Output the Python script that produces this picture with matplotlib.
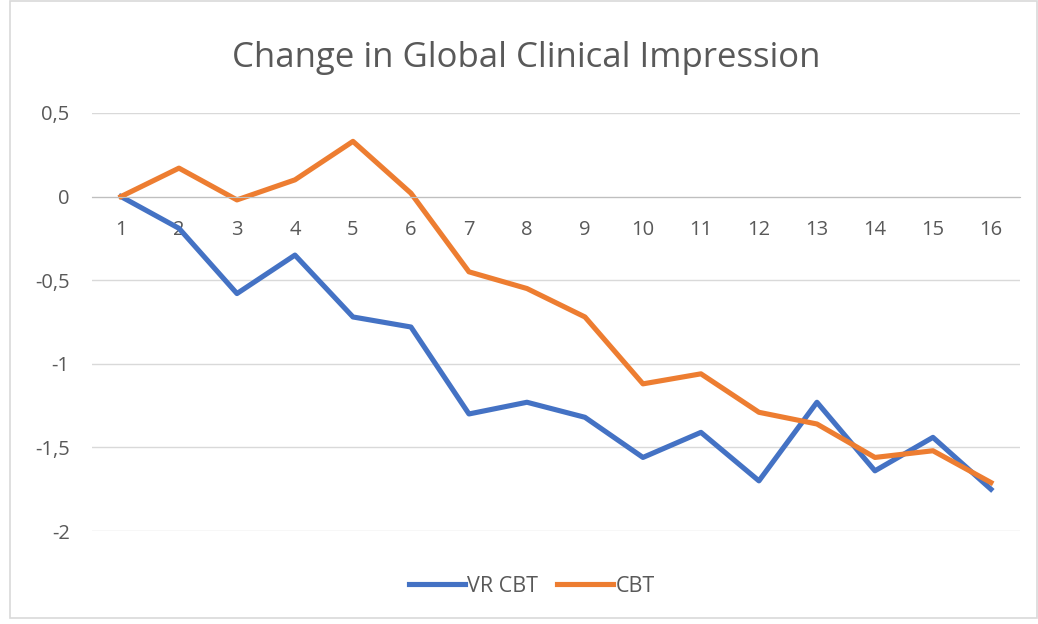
import matplotlib.pyplot as plt
from matplotlib.patches import Rectangle

sessions = [str(i) for i in range(1, 17)]
vr_cbt = [0, -0.19, -0.58, -0.35, -0.72, -0.78, -1.30, -1.23, -1.32, -1.56,
          -1.41, -1.70, -1.23, -1.64, -1.44, -1.75]
cbt = [0, 0.17, -0.02, 0.10, 0.33, 0.02, -0.45, -0.55, -0.72, -1.12,
       -1.06, -1.29, -1.36, -1.56, -1.52, -1.71]

plt.rcParams['font.family'] = ['Open Sans', 'DejaVu Sans']
grey = '#595959'

fig = plt.figure(figsize=(10.38, 6.24), dpi=100)
fig.patches.append(Rectangle((0.0096, 0.0096), 0.989, 0.989, transform=fig.transFigure,
                             fill=False, edgecolor='#D9D9D9', linewidth=1.2))
ax = fig.add_axes([0.0886, 0.149, 0.894, 0.670])

x = range(len(sessions))
ax.plot(x, vr_cbt, color='#4472C4', linewidth=3.7, label='VR CBT', solid_joinstyle='round')
ax.plot(x, cbt, color='#ED7D31', linewidth=3.7, label='CBT', solid_joinstyle='round')

ax.set_xlim(-0.5, len(sessions) - 0.5)
ax.set_ylim(-2, 0.5)
ax.set_yticks([0.5, 0, -0.5, -1, -1.5, -2])
ax.set_yticklabels(['0,5', '0', '-0,5', '-1', '-1,5', '-2'])
ax.set_xticks(list(x))
ax.set_xticklabels(sessions)
ax.tick_params(axis='both', length=0, labelsize=14.5, colors=grey)
ax.tick_params(axis='x', pad=17)
ax.tick_params(axis='y', pad=16)

ax.grid(axis='y', color='#D9D9D9', linewidth=1)
ax.set_axisbelow(True)
for s in ['top', 'right', 'left']:
    ax.spines[s].set_visible(False)
ax.spines['bottom'].set_position(('data', 0))
ax.spines['bottom'].set_color('#BFBFBF')

fig.suptitle('Change in Global Clinical Impression', fontsize=25, color=grey,
             x=0.507, y=0.934)
ax.legend(loc='center', bbox_to_anchor=(0.474, -0.132), ncol=2, frameon=False,
          fontsize=15.5, labelcolor=grey, handlelength=2.6, handletextpad=0.1,
          columnspacing=0.9)

fig.savefig('out.png', dpi=100)
